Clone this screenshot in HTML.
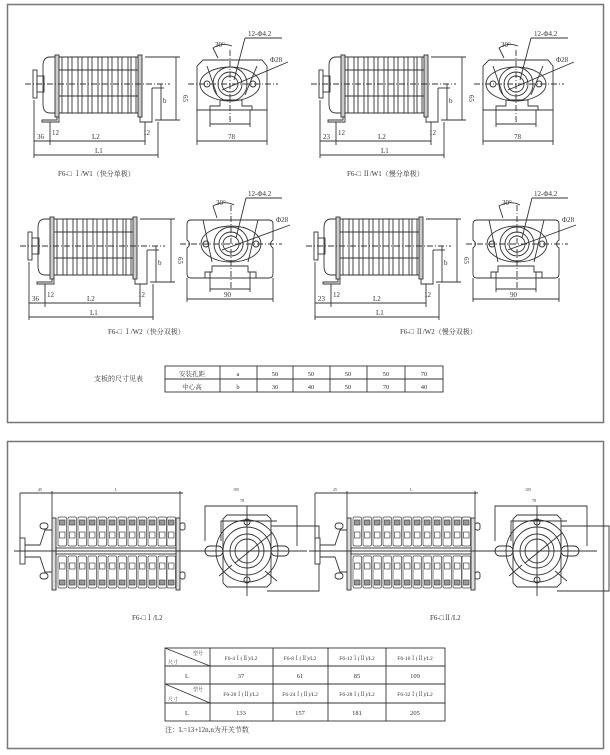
<!DOCTYPE html>
<html><head><meta charset="utf-8"><style>
html,body{margin:0;padding:0;background:#fff;width:610px;height:755px;overflow:hidden}
svg{display:block}
text{font-family:"Liberation Serif","Noto Serif CJK SC",serif;fill:#333}
</style></head><body>
<svg width="610" height="755" viewBox="0 0 610 755" xmlns="http://www.w3.org/2000/svg">
<defs>
<g id="coil" fill="none" stroke="#333" stroke-width="0.9">
  <rect x="33" y="70" width="4" height="28" fill="#fff"/>
  <rect x="37" y="76" width="7" height="16"/>
  <path d="M56 57 H50 Q43 57 43 66 V104 Q43 113 50 113 H56"/>
  <rect x="55" y="55" width="4" height="62" fill="#ccc"/>
  <rect x="138" y="55" width="4" height="62" fill="#ccc"/>
  <rect x="62" y="57" width="6" height="56"/><rect x="72" y="57" width="6" height="56"/>
  <rect x="82" y="57" width="6" height="56"/><rect x="92" y="57" width="6" height="56"/>
  <rect x="102" y="57" width="6" height="56"/><rect x="112" y="57" width="6" height="56"/>
  <rect x="122" y="57" width="6" height="56"/><rect x="131" y="57" width="5" height="56"/>
  <line x1="59" y1="70" x2="138" y2="70"/><line x1="59" y1="96" x2="138" y2="96"/>
  <line x1="59" y1="57" x2="138" y2="57"/><line x1="59" y1="113" x2="138" y2="113"/>
  <path d="M57 117 V120 H42 V122 H59 V117"/>
  <path d="M140 117 V122 H152 V88"/>
  <line x1="25" y1="84" x2="170" y2="84" stroke-dasharray="6,2,1,2"/>
  <line x1="145" y1="57" x2="180" y2="57"/><line x1="155" y1="120" x2="180" y2="120"/>
  <line x1="176" y1="57" x2="176" y2="120"/>
  <line x1="152" y1="88" x2="164" y2="88"/><line x1="161" y1="84" x2="161" y2="120"/>
  <line x1="50" y1="122" x2="50" y2="145"/><line x1="145" y1="122" x2="145" y2="145"/>
  <line x1="34" y1="100" x2="34" y2="158"/><line x1="158" y1="122" x2="158" y2="158"/>
  <line x1="34" y1="141" x2="145" y2="141"/><line x1="34" y1="155" x2="158" y2="155"/>
</g>
<g id="side78" fill="none" stroke="#333" stroke-width="0.9">
  <path d="M203 60 H262 L267 66 V110 H197 V66 Z"/>
  <line x1="197" y1="110" x2="197" y2="145"/><line x1="267" y1="110" x2="267" y2="145"/>
  <line x1="197" y1="141" x2="267" y2="141"/>
  <path d="M210 110 V106 H220 V100 H242 V106 H252 V110"/>
  <line x1="210" y1="110" x2="210" y2="127"/><line x1="250" y1="110" x2="250" y2="127"/>
  <line x1="210" y1="124" x2="250" y2="124"/>
  <path d="M207 66 L217 95 M257 66 L245 95"/>
  <ellipse cx="230" cy="84" rx="30" ry="17"/>
  <circle cx="230" cy="84" r="17"/><circle cx="230" cy="84" r="12"/><circle cx="230" cy="84" r="8"/>
  <circle cx="207" cy="84" r="3"/><circle cx="253" cy="84" r="3"/>
  <line x1="188" y1="84" x2="278" y2="84" stroke-dasharray="6,2,1,2"/>
  <line x1="230" y1="50" x2="230" y2="120" stroke-dasharray="6,2,1,2"/>
  <line x1="222" y1="90" x2="288" y2="62"/><line x1="234" y1="80" x2="245" y2="38"/>
  <line x1="245" y1="38" x2="282" y2="38"/>
  <path d="M218 58 L213 48 Q222 42 232 46"/>
</g>
<g id="side90" fill="none" stroke="#333" stroke-width="0.9">
  <path d="M191 220 H269 Q273 220 273 224 V240 Q268 244 273 248 V274 Q273 278 269 278 H191 Q187 278 187 274 V248 Q192 244 187 240 V224 Q187 220 191 220 Z"/>
  <line x1="187" y1="278" x2="187" y2="302"/><line x1="273" y1="278" x2="273" y2="302"/>
  <line x1="187" y1="299" x2="273" y2="299"/>
  <path d="M205 278 V272 H212 V266 H248 V272 H256 V278"/>
  <line x1="210" y1="272" x2="210" y2="292"/><line x1="250" y1="272" x2="250" y2="292"/>
  <line x1="210" y1="289" x2="250" y2="289"/>
  <path d="M203 220 L212 262 M258 220 L248 262"/>
  <ellipse cx="231" cy="244" rx="30" ry="18"/>
  <circle cx="231" cy="244" r="17"/><circle cx="231" cy="244" r="12"/><circle cx="231" cy="244" r="8"/>
  <circle cx="206" cy="244" r="3"/><circle cx="256" cy="244" r="3"/>
  <line x1="180" y1="244" x2="282" y2="244" stroke-dasharray="6,2,1,2"/>
  <line x1="231" y1="205" x2="231" y2="290" stroke-dasharray="6,2,1,2"/>
  <line x1="222" y1="250" x2="290" y2="225"/><line x1="236" y1="238" x2="246" y2="198"/>
  <line x1="246" y1="198" x2="282" y2="198"/>
  <path d="M217 218 L213 206 Q224 200 234 205"/>
</g>
<g id="l2body" fill="none" stroke="#333" stroke-width="0.9">
  <rect x="20" y="538" width="5" height="26" fill="#fff"/>
  <path d="M25 545 H40 L45 530 H55 M25 557 H40 L45 572 H55"/>
  <rect x="40" y="523" width="8" height="6" rx="3"/><rect x="40" y="573" width="8" height="6" rx="3"/>
  <rect x="52" y="518" width="4" height="72" fill="#ddd"/>
  <rect x="176" y="518" width="4" height="72" fill="#ddd"/>
  <line x1="52" y1="491" x2="52" y2="518"/><line x1="180" y1="491" x2="180" y2="518"/>
  <line x1="20" y1="493" x2="183" y2="493"/><line x1="20" y1="493" x2="20" y2="538"/>
  <rect x="180" y="523" width="5" height="7" rx="2"/><rect x="180" y="572" width="5" height="7" rx="2"/>
  <line x1="14" y1="551" x2="200" y2="551"/>
  <rect x="56" y="548" width="120" height="6"/>
</g>
<g id="mod" fill="none" stroke="#444" stroke-width="0.7">
  <rect x="0" y="517" width="8.5" height="29" rx="1.5"/><rect x="0" y="556" width="8.5" height="32" rx="1.5"/>
  <rect x="1.5" y="520" width="5.5" height="5" fill="#999"/><rect x="1.5" y="532" width="5.5" height="6"/>
  <rect x="1.5" y="563" width="5.5" height="6"/><rect x="1.5" y="580" width="5.5" height="5" fill="#999"/>
</g>
<g id="l2side" fill="none" stroke="#333" stroke-width="0.9">
  <path d="M-20 -36 H20 L24 -32 V32 L20 36 H-20 L-24 32 V-32 Z"/>
  <circle r="31"/><circle r="24"/><circle r="17"/><circle r="12"/>
  <circle cx="0" cy="-29" r="3"/><circle cx="0" cy="29" r="3"/>
  <line x1="-60" y1="0" x2="60" y2="0"/><line x1="0" y1="-45" x2="0" y2="45"/>
  <rect x="-42" y="-5" width="18" height="10" rx="5"/><rect x="24" y="-5" width="18" height="10" rx="5"/>
  <path d="M-42 -10 V-45 H50 V-5"/><path d="M-26 -10 V-30 H30"/>
  <path d="M24 -25 H72 V40 H20"/>
  <line x1="-12" y1="12" x2="25" y2="-18"/><line x1="-15" y1="14" x2="-28" y2="25"/>
  <line x1="18" y1="20" x2="30" y2="30"/>
</g>
</defs>

<rect x="7.5" y="4.5" width="596" height="418" fill="none" stroke="#777" stroke-width="1.5"/>
<rect x="7.5" y="441.5" width="596" height="307" fill="none" stroke="#777" stroke-width="1.5"/>

<use href="#coil"/><use href="#side78"/>
<g font-size="7">
<text x="183" y="95" transform="rotate(90 183 95)">65</text><text x="163" y="103">b</text>
<text x="37" y="139">36</text><text x="92" y="139">L2</text><text x="95" y="153">L1</text>
<text x="52" y="135">12</text><text x="143" y="135">12</text>
<text x="228" y="139">78</text><text x="229" y="122" font-size="5">a</text>
<text x="215" y="47">30°</text><text x="248" y="36">12-Φ4.2</text><text x="270" y="62">Φ28</text>
<text x="58" y="176">F6-□ Ⅰ/W1（快分单极）</text>
</g>
<g transform="translate(286,0)"><use href="#coil"/><use href="#side78"/></g>
<g font-size="7">
<text x="469" y="95" transform="rotate(90 469 95)">65</text><text x="449" y="103">b</text>
<text x="323" y="139">23</text><text x="378" y="139">L2</text><text x="381" y="153">L1</text>
<text x="338" y="135">12</text><text x="429" y="135">12</text>
<text x="514" y="139">78</text><text x="515" y="122" font-size="5">a</text>
<text x="501" y="47">30°</text><text x="534" y="36">12-Φ4.2</text><text x="556" y="62">Φ28</text>
<text x="347" y="176">F6-□ Ⅱ/W1（慢分单极）</text>
</g>
<g transform="translate(-5,162)"><use href="#coil"/></g><use href="#side90"/>
<g font-size="7">
<text x="178" y="257" transform="rotate(90 178 257)">65</text><text x="158" y="265">b</text>
<text x="32" y="301">36</text><text x="87" y="301">L2</text><text x="90" y="315">L1</text>
<text x="47" y="297">12</text><text x="138" y="297">12</text>
<text x="224" y="297">90</text>
<text x="216" y="205">30°</text><text x="248" y="196">12-Φ4.2</text><text x="276" y="222">Φ28</text>
<text x="108" y="334">F6-□ Ⅰ/W2（快分双极）</text>
</g>
<g transform="translate(281,162)"><use href="#coil"/></g><g transform="translate(286,0)"><use href="#side90"/></g>
<g font-size="7">
<text x="464" y="257" transform="rotate(90 464 257)">65</text><text x="444" y="265">b</text>
<text x="318" y="301">23</text><text x="373" y="301">L2</text><text x="376" y="315">L1</text>
<text x="333" y="297">12</text><text x="424" y="297">12</text>
<text x="510" y="297">90</text>
<text x="502" y="205">30°</text><text x="534" y="196">12-Φ4.2</text><text x="562" y="222">Φ28</text>
<text x="400" y="334">F6-□ Ⅱ/W2（慢分双极）</text>
</g>

<text x="94" y="381" font-size="7">支板的尺寸见表</text>
<g stroke="#333" stroke-width="0.9" fill="none">
<rect x="165" y="366" width="278" height="26"/>
<line x1="165" y1="379" x2="443" y2="379"/>
<line x1="220" y1="366" x2="220" y2="392"/><line x1="257" y1="366" x2="257" y2="392"/>
<line x1="293" y1="366" x2="293" y2="392"/><line x1="330" y1="366" x2="330" y2="392"/>
<line x1="367" y1="366" x2="367" y2="392"/><line x1="405" y1="366" x2="405" y2="392"/>
</g>
<g font-size="6.5" text-anchor="middle">
<text x="192" y="376">安装孔距</text><text x="238" y="376">a</text><text x="275" y="376">50</text><text x="311" y="376">50</text><text x="348" y="376">50</text><text x="386" y="376">50</text><text x="424" y="376">70</text>
<text x="192" y="389">中心高</text><text x="238" y="389">b</text><text x="275" y="389">30</text><text x="311" y="389">40</text><text x="348" y="389">50</text><text x="386" y="389">70</text><text x="424" y="389">40</text>
</g>

<g id="l2a">
<use href="#l2body"/>
<use href="#mod" x="58"/><use href="#mod" x="68"/><use href="#mod" x="78"/><use href="#mod" x="88"/>
<use href="#mod" x="98"/><use href="#mod" x="108"/><use href="#mod" x="118"/><use href="#mod" x="128"/>
<use href="#mod" x="138"/><use href="#mod" x="148"/><use href="#mod" x="158"/><use href="#mod" x="167"/>
</g>
<g transform="translate(247,551)"><use href="#l2side"/></g>
<g transform="translate(295,0)"><use href="#l2a"/></g>
<g transform="translate(537,551)"><use href="#l2side"/></g>
<g font-size="4">
<text x="38" y="491">45</text><text x="115" y="491">L</text><text x="233" y="491">105</text><text x="240" y="502">78</text>
<text x="333" y="491">25</text><text x="410" y="491">L</text><text x="525" y="491">105</text><text x="532" y="502">78</text>
</g>
<g font-size="7">
<text x="132" y="620">F6-□Ⅰ/L2</text><text x="430" y="620">F6-□Ⅱ/L2</text>
</g>

<g stroke="#333" stroke-width="0.9" fill="none">
<rect x="165" y="648" width="280" height="73"/>
<line x1="165" y1="666" x2="445" y2="666"/><line x1="165" y1="684" x2="445" y2="684"/><line x1="165" y1="703" x2="445" y2="703"/>
<line x1="210" y1="648" x2="210" y2="721"/><line x1="273" y1="648" x2="273" y2="721"/>
<line x1="328" y1="648" x2="328" y2="721"/><line x1="386" y1="648" x2="386" y2="721"/>
<line x1="165" y1="648" x2="210" y2="666"/><line x1="165" y1="684" x2="210" y2="703"/>
</g>
<g font-size="5">
<text x="193" y="655">型号</text><text x="168" y="664">尺寸</text>
<text x="193" y="691">型号</text><text x="168" y="701">尺寸</text>
</g>
<g font-size="5.5" text-anchor="middle">
<text x="241" y="660">F6-4Ⅰ(Ⅱ)/L2</text><text x="300" y="660">F6-8Ⅰ(Ⅱ)/L2</text><text x="357" y="660">F6-12Ⅰ(Ⅱ)/L2</text><text x="415" y="660">F6-16Ⅰ(Ⅱ)/L2</text>
<text x="241" y="696">F6-20Ⅰ(Ⅱ)/L2</text><text x="300" y="696">F6-24Ⅰ(Ⅱ)/L2</text><text x="357" y="696">F6-28Ⅰ(Ⅱ)/L2</text><text x="415" y="696">F6-32Ⅰ(Ⅱ)/L2</text>
</g>
<g font-size="6.5" text-anchor="middle">
<text x="187" y="678">L</text><text x="241" y="678">37</text><text x="300" y="678">61</text><text x="357" y="678">85</text><text x="415" y="678">109</text>
<text x="187" y="715">L</text><text x="241" y="715">133</text><text x="300" y="715">157</text><text x="357" y="715">181</text><text x="415" y="715">205</text>
</g>
<text x="165" y="732" font-size="7">注：L=13+12n,n为开关节数</text>
</svg>
</body></html>
